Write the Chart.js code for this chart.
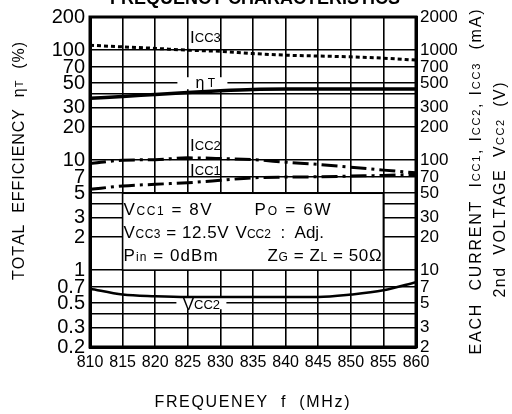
<!DOCTYPE html>
<html>
<head>
<meta charset="utf-8">
<script src="https://cdn.jsdelivr.net/npm/chart.js@4.4.1/dist/chart.umd.min.js"></script>
<style>
html, body { margin: 0; padding: 0; background: #fff; }
#wrap { width: 512px; height: 414px; }
</style>
</head>
<body>
<div id="wrap"><canvas id="freq-chart" width="512" height="414"></canvas></div>
<script>
// frequency axis (MHz)
var freqs = [810, 815, 820, 825, 830, 835, 840, 845, 850, 855, 860];
// total efficiency (%) - left axis
var etaT = [36.5, 37.9, 39.5, 41.1, 42.7, 43.9, 44.2, 44.2, 44.2, 44.2, 44.2];
// currents (mA) and 2nd voltage (V) - right axis
var icc3 = [1107, 1070, 1037, 998, 975, 931, 900, 883, 869, 845, 811];
var icc2 = [92.9, 99.8, 101, 104.8, 103.4, 101, 95.8, 91.3, 86.3, 81.1, 76.7];
var icc1 = [54.3, 58.1, 60.3, 62.3, 65.5, 69.1, 70.1, 70.5, 71.6, 72.6, 74.1];
var vcc2 = [6.78, 5.99, 5.78, 5.69, 5.69, 5.69, 5.69, 5.69, 5.99, 6.55, 7.78];

var leftTicks = [0.2, 0.3, 0.4, 0.5, 0.7, 1, 2, 3, 4, 5, 7, 10, 20, 30, 40, 50, 70, 100, 200];
var rightTicks = [2, 3, 4, 5, 7, 10, 20, 30, 40, 50, 70, 100, 200, 300, 400, 500, 700, 1000, 2000];
var unlabeled = [0.4, 4, 40, 400];

var sans = "'Liberation Sans', Arial, sans-serif";

function pts(ys) {
    return freqs.map((f, i) => ({ x: f, y: ys[i] }));
}

// draws text made of [text, size] parts; spread out to `len` if given
function drawParts(c, parts, x, y, len, align) {
    var chars = [];
    parts.forEach(p => {
        for (var ch of p[0]) chars.push([ch, p[1]]);
    });
    var natural = 0;
    chars.forEach(ch => {
        c.font = ch[1] + 'px ' + sans;
        natural += c.measureText(ch[0]).width;
    });
    var sp = len ? Math.max(0, (len - natural) / (chars.length - 1)) : 0;
    var total = len ? Math.max(len, natural) : natural;
    var cx = align === 'center' ? x - total / 2 : x;
    chars.forEach(ch => {
        c.font = ch[1] + 'px ' + sans;
        c.fillText(ch[0], cx, y);
        cx += c.measureText(ch[0]).width + sp;
    });
}

var decor = {
    id: 'decor',
    beforeDatasetsDraw(chart) {
        var c = chart.ctx, a = chart.chartArea;
        var xs = chart.scales.x, ys = chart.scales.y;
        c.save();
        // condition box over the grid (815-855 MHz, 1-5 on left axis)
        var bx0 = xs.getPixelForValue(815), bx1 = xs.getPixelForValue(855);
        var by0 = ys.getPixelForValue(5), by1 = ys.getPixelForValue(1);
        c.fillStyle = '#fff';
        c.fillRect(bx0, by0, bx1 - bx0, by1 - by0);
        c.strokeStyle = '#000';
        c.lineWidth = 1.6;
        c.strokeRect(bx0, by0, bx1 - bx0, by1 - by0);
        // gaps in grid lines behind curve labels
        var lx = xs.getPixelForValue(827.7);
        c.fillRect(lx - 28, ys.getPixelForValue(50) - 6, 50, 12);
        c.fillRect(lx - 29, ys.getPixelForValue(0.5) - 6, 50, 12);
        // plot frame
        c.lineWidth = 3;
        c.strokeRect(a.left, a.top, a.right - a.left, a.bottom - a.top);

        c.fillStyle = '#000';
        c.textBaseline = 'alphabetic';
        var tx = bx0 + 1;
        drawParts(c, [['V', 17], ['CC1', 12], [' = 8V', 17]], tx, by0 + 22, 88);
        drawParts(c, [['P', 17], ['O', 12], [' = 6W', 17]], tx + 131, by0 + 22, 76);
        drawParts(c, [['V', 17], ['CC3', 12], [' = 12.5V', 17]], tx, by0 + 45, 105);
        drawParts(c, [['V', 17], ['CC2', 12], ['  :  Adj.', 17]], tx + 112, by0 + 45, 0);
        drawParts(c, [['P', 17], ['in', 12], [' = 0dBm', 17]], tx, by0 + 68, 94);
        drawParts(c, [['Z', 17], ['G', 12], [' = Z', 17], ['L', 12], [' = 50Ω', 17]], tx + 144, by0 + 68, 114);
        c.restore();
    },
    afterDatasetsDraw(chart) {
        var c = chart.ctx;
        var xs = chart.scales.x, ys = chart.scales.y, y2 = chart.scales.y2;
        var lx = xs.getPixelForValue(827.7);
        c.save();
        c.fillStyle = '#000';
        c.textBaseline = 'middle';
        drawParts(c, [['I', 17], ['CC3', 13]], lx, y2.getPixelForValue(1290), 0, 'center');
        drawParts(c, [['η', 16], [' T', 12]], lx, ys.getPixelForValue(50), 0, 'center');
        drawParts(c, [['I', 17], ['CC2', 13]], lx, y2.getPixelForValue(134), 0, 'center');
        drawParts(c, [['I', 17], ['CC1', 13]], lx, y2.getPixelForValue(79.4), 0, 'center');
        drawParts(c, [['V', 17], ['CC2', 13]], lx - 4, y2.getPixelForValue(4.75), 0, 'center');
        c.restore();
    },
    afterDraw(chart) {
        var c = chart.ctx;
        c.save();
        c.fillStyle = '#000';
        c.textBaseline = 'alphabetic';
        c.textAlign = 'center';
        c.font = 'bold 18px ' + sans;
        c.fillText('FREQUENCY CHARACTERISTICS', 255, 4);
        c.textAlign = 'left';
        drawParts(c, [['FREQUENEY  f  (MHz)', 16]], 252, 407, 195, 'center');

        c.textBaseline = 'middle';
        c.translate(20, 161);
        c.rotate(-Math.PI / 2);
        drawParts(c, [['TOTAL  EFFICIENCY  ', 16], ['η', 16], ['T', 11], ['  (%)', 16]], 0, 0, 238, 'center');
        c.setTransform(1, 0, 0, 1, 0, 0);
        c.translate(477, 182);
        c.rotate(-Math.PI / 2);
        drawParts(c, [['EACH  CURRENT  I', 16], ['CC1', 11], [', I', 16], ['CC2', 11], [', I', 16], ['CC3', 11], ['  (mA)', 16]], 0, 0, 345, 'center');
        c.setTransform(1, 0, 0, 1, 0, 0);
        c.translate(501, 190);
        c.rotate(-Math.PI / 2);
        drawParts(c, [['2nd  VOLTAGE  V', 16], ['CC2', 11], ['  (V)', 16]], 0, 0, 215, 'center');
        c.restore();
    }
};

var ctx = document.getElementById('freq-chart').getContext('2d');

var freqChart = new Chart(ctx, {
    type: 'line',
    data: {
        datasets: [
            {
                label: 'ηT',
                data: pts(etaT),
                yAxisID: 'y',
                borderColor: '#000',
                borderWidth: 3.5,
                pointRadius: 0,
                cubicInterpolationMode: 'monotone'
            },
            {
                label: 'Icc3',
                data: pts(icc3),
                yAxisID: 'y2',
                borderColor: '#000',
                borderWidth: 3,
                borderDash: [4, 3],
                pointRadius: 0,
                cubicInterpolationMode: 'monotone'
            },
            {
                label: 'Icc2',
                data: pts(icc2),
                yAxisID: 'y2',
                borderColor: '#000',
                borderWidth: 3,
                borderDash: [16, 5, 3, 5],
                pointRadius: 0,
                cubicInterpolationMode: 'monotone'
            },
            {
                label: 'Icc1',
                data: pts(icc1),
                yAxisID: 'y2',
                borderColor: '#000',
                borderWidth: 3,
                borderDash: [16, 5, 3, 5],
                pointRadius: 0,
                cubicInterpolationMode: 'monotone'
            },
            {
                label: 'Vcc2',
                data: pts(vcc2),
                yAxisID: 'y2',
                borderColor: '#000',
                borderWidth: 2.5,
                pointRadius: 0,
                cubicInterpolationMode: 'monotone'
            }
        ]
    },
    options: {
        responsive: false,
        animation: false,
        layout: { padding: { top: 15, left: 0, right: 0, bottom: 0 } },
        plugins: {
            legend: { display: false },
            tooltip: { enabled: false }
        },
        scales: {
            x: {
                type: 'linear',
                min: 810,
                max: 860,
                ticks: {
                    stepSize: 5,
                    color: '#000',
                    padding: 6,
                    maxRotation: 0,
                    autoSkip: false,
                    font: { family: sans, size: 16 }
                },
                grid: { color: '#000', lineWidth: 1.6, drawTicks: false },
                border: { display: true, color: '#000', width: 3 },
                afterFit: s => { s.height = 67; }
            },
            y: {
                type: 'logarithmic',
                position: 'left',
                min: 0.2,
                max: 200,
                afterBuildTicks: s => { s.ticks = leftTicks.map(v => ({ value: v })); },
                ticks: {
                    color: '#000',
                    padding: 5,
                    autoSkip: false,
                    font: { family: sans, size: 20 },
                    callback: v => unlabeled.includes(v) ? '' : String(v)
                },
                grid: { color: '#000', lineWidth: 1.6, drawTicks: false },
                border: { display: true, color: '#000', width: 3 },
                afterFit: s => { s.width = 90; }
            },
            y2: {
                type: 'logarithmic',
                position: 'right',
                min: 2,
                max: 2000,
                afterBuildTicks: s => { s.ticks = rightTicks.map(v => ({ value: v })); },
                ticks: {
                    color: '#000',
                    padding: 4,
                    autoSkip: false,
                    font: { family: sans, size: 17 },
                    callback: v => unlabeled.includes(v) ? '' : String(v)
                },
                grid: { drawOnChartArea: false, drawTicks: false },
                border: { display: true, color: '#000', width: 3 },
                afterFit: s => { s.width = 96; }
            }
        }
    },
    plugins: [decor]
});
</script>
</body>
</html>
